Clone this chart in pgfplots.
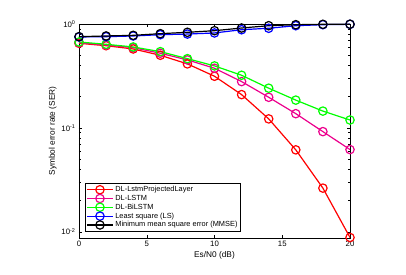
\documentclass[border=0pt]{standalone}
\usepackage{fontspec}
\setmainfont{Liberation Sans}
\usepackage{pgfplots}
\pgfplotsset{compat=1.18}
\begin{document}
\begin{tikzpicture}
\begin{axis}[
  at={(0pt,0pt)}, anchor=south west,
  scale only axis, width=271pt, height=214pt,
  ymode=log, xmin=0, xmax=20, ymin=0.0087, ymax=1,
  xtick={0,5,10,15,20},
  ytick={0.01,0.1,1},
  yticklabels={10\textsuperscript{-2},10\textsuperscript{-1},10\textsuperscript{0}},
  /pgf/number format/assume math mode=true,
  tick align=inside, tick pos=both,
  major tick length=3pt, minor tick length=1.8pt,
  ticklabel style={font=\fontsize{7.8}{8}\selectfont},
  xlabel={Es/N0 (dB)}, ylabel={Symbol error rate (SER)},
  label style={font=\fontsize{8.3}{9}\selectfont},
  xlabel style={yshift=2pt},
  ylabel style={yshift=-2pt},
  axis line style={black, line width=0.6pt},
  every tick/.style={black, line width=0.4pt},
  legend style={at={(0.022,0.028)}, anchor=south west, font=\fontsize{7.4}{7.4}\selectfont,
    draw=black, line width=0.6pt, fill=white, row sep=-2pt, inner sep=1.3pt},
  legend cell align=left,
  legend image code/.code={\draw[mark repeat=2,mark phase=2] plot coordinates {(0cm,0cm) (0.45cm,0cm) (0.9cm,0cm)};},
  every axis plot/.append style={line width=1.2pt, mark=o, mark size=4.2pt, mark options={line width=1.2pt}},
]
\addplot[red] coordinates {(0,0.652)(2,0.618)(4,0.575)(6,0.500)(8,0.413)(10,0.314)(12,0.209)(14,0.122)(16,0.0614)(18,0.0263)(20,0.0088)};
\addlegendentry{DL-LstmProjectedLayer}
\addplot[magenta] coordinates {(0,0.661)(2,0.628)(4,0.592)(6,0.523)(8,0.451)(10,0.375)(12,0.279)(14,0.197)(16,0.137)(18,0.092)(20,0.0618)};
\addlegendentry{DL-LSTM}
\addplot[green] coordinates {(0,0.671)(2,0.638)(4,0.601)(6,0.542)(8,0.464)(10,0.395)(12,0.321)(14,0.241)(16,0.185)(18,0.145)(20,0.119)};
\addlegendentry{DL-BiLSTM}
\addplot[blue] coordinates {(0,0.750)(2,0.755)(4,0.767)(6,0.789)(8,0.800)(10,0.820)(12,0.881)(14,0.910)(16,0.963)(18,0.985)(20,0.993)};
\addlegendentry{Least square (LS)}
\addplot[black] coordinates {(0,0.755)(2,0.767)(4,0.778)(6,0.807)(8,0.832)(10,0.862)(12,0.915)(14,0.963)(16,0.985)(18,0.993)(20,0.995)};
\addlegendentry{Minimum mean square error (MMSE)}
\end{axis}
\path[use as bounding box] (-79pt,-37pt) rectangle (327pt,238pt);
\end{tikzpicture}
\end{document}
